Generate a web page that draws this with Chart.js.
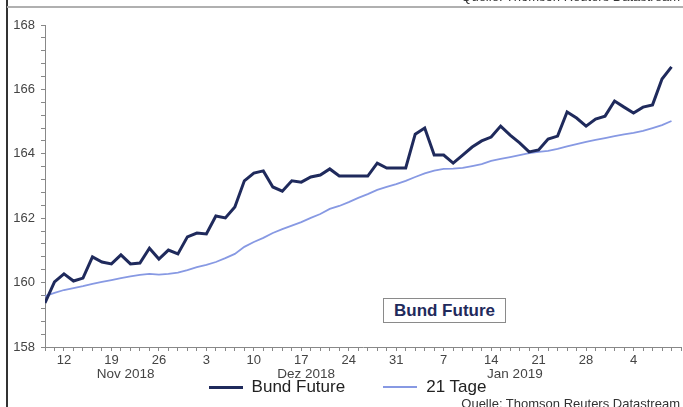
<!DOCTYPE html>
<html>
<head>
<meta charset="utf-8">
<script src="https://cdn.jsdelivr.net/npm/chart.js@4.4.1/dist/chart.umd.min.js"></script>
<style>
    html, body { margin: 0; padding: 0; background: #fff; overflow: hidden; }
    #contenedor { position: relative; width: 683px; height: 407px; font-family: "Liberation Sans", Arial, sans-serif; }
    #grafico { position: absolute; left: 0; top: 0; }
    .marcoIzq { position: absolute; left: 6px; top: 0; width: 2px; height: 407px; background: #333; }
    .marcoSup { position: absolute; left: 7px; top: 6px; right: 0; height: 2px; background: #b0b0b0; }
    .quelle { position: absolute; right: 3px; font-size: 13px; color: #333; white-space: nowrap; }
    #anotacion { position: absolute; left: 383px; top: 298px; width: 121px; height: 23px; border: 1px solid #8a8a8a;
        font-weight: bold; font-size: 17px; color: #1f2a5c; text-align: center; line-height: 23px; background: #fff; }
    #leyenda { position: absolute; left: 6px; top: 377px; width: 683px; display: flex; justify-content: center; font-size: 17px; color: #222; }
    .item { display: flex; align-items: center; margin: 0 19px; }
    .linea { display: inline-block; width: 34px; margin-right: 9px; }
</style>
</head>
<body>
<div id="contenedor">
    <canvas id="grafico" width="683" height="407"></canvas>
    <div class="marcoIzq"></div>
    <div class="marcoSup"></div>
    <div class="quelle" style="top:-11px">Quelle: Thomson Reuters Datastream</div>
    <div class="quelle" style="top:396px">Quelle: Thomson Reuters Datastream</div>
    <div id="anotacion">Bund Future</div>
    <div id="leyenda"></div>
</div>
<script>
// Datos (dias habiles 08.11.2018 - 08.02.2019)
const fechaInicio = '2018-11-08';
const fechaFin = '2019-02-08';
const nombresMes = ['Jan', 'Feb', 'Mär', 'Apr', 'Mai', 'Jun', 'Jul', 'Aug', 'Sep', 'Okt', 'Nov', 'Dez'];

const bundFuture = [159.37, 160.02, 160.27, 160.05, 160.14, 160.80, 160.64, 160.58, 160.86, 160.58,
    160.61, 161.07, 160.73, 161.01, 160.89, 161.42, 161.54, 161.51, 162.07, 162.01,
    162.35, 163.16, 163.40, 163.47, 162.97, 162.84, 163.16, 163.12, 163.28, 163.34,
    163.53, 163.31, 163.31, 163.31, 163.31, 163.71, 163.56, 163.56, 163.56, 164.61,
    164.80, 163.96, 163.96, 163.71, 163.96, 164.21, 164.40, 164.52, 164.86, 164.58,
    164.34, 164.06, 164.12, 164.46, 164.55, 165.30, 165.11, 164.86, 165.08, 165.17,
    165.64, 165.45, 165.27, 165.45, 165.52, 166.32, 166.70];

const tage21 = [159.58, 159.68, 159.77, 159.83, 159.89, 159.96, 160.02, 160.08, 160.14, 160.19,
    160.24, 160.27, 160.25, 160.27, 160.31, 160.39, 160.48, 160.55, 160.64, 160.76,
    160.89, 161.11, 161.26, 161.39, 161.54, 161.66, 161.77, 161.88, 162.01, 162.13,
    162.29, 162.38, 162.50, 162.63, 162.75, 162.88, 162.97, 163.06, 163.16, 163.28,
    163.39, 163.48, 163.53, 163.54, 163.56, 163.62, 163.68, 163.78, 163.84, 163.90,
    163.96, 164.02, 164.06, 164.09, 164.15, 164.23, 164.30, 164.37, 164.43, 164.49,
    164.55, 164.60, 164.65, 164.71, 164.80, 164.89, 165.02];

const ejeYMin = 158;
const ejeYMax = 168;
const ejeYPaso = 0.4;
const ejeYEtiqueta = 2;

// Lista de dias habiles
const fechas = [];
for (let d = new Date(fechaInicio + 'T00:00:00Z'); d <= new Date(fechaFin + 'T00:00:00Z'); d.setUTCDate(d.getUTCDate() + 1)) {
    const dia = d.getUTCDay();
    if (dia !== 0 && dia !== 6) fechas.push(new Date(d));
}

// Meses: primer y ultimo indice
const meses = [];
fechas.forEach((f, i) => {
    const clave = nombresMes[f.getUTCMonth()] + ' ' + f.getUTCFullYear();
    const ultimo = meses[meses.length - 1];
    if (!ultimo || ultimo.nombre !== clave) meses.push({ nombre: clave, desde: i, hasta: i });
    else ultimo.hasta = i;
});

const colorBund = '#1f2a5c';
const colorTage = '#8799e3';
const fuente = "'Liberation Sans', Arial, sans-serif";

const etiquetasMes = {
    id: 'etiquetasMes',
    afterDraw(chart) {
        const ctx = chart.ctx;
        const x = chart.scales.x;
        ctx.save();
        ctx.font = '13.5px ' + fuente;
        ctx.fillStyle = '#444';
        ctx.textAlign = 'center';
        ctx.textBaseline = 'middle';
        meses.forEach(m => {
            // solo meses con suficientes dias
            if (m.hasta - m.desde < 10) return;
            ctx.fillText(m.nombre, x.getPixelForValue((m.desde + m.hasta + 1) / 2), chart.chartArea.bottom + 27);
        });
        ctx.restore();
    }
};

const grafico = new Chart(document.getElementById('grafico').getContext('2d'), {
    type: 'line',
    data: {
        datasets: [
            {
                label: 'Bund Future',
                data: bundFuture.map((v, i) => ({ x: i, y: v })),
                borderColor: colorBund,
                borderWidth: 3,
                pointRadius: 0,
                tension: 0
            },
            {
                label: '21 Tage',
                data: tage21.map((v, i) => ({ x: i, y: v })),
                borderColor: colorTage,
                borderWidth: 1.8,
                pointRadius: 0,
                tension: 0
            }
        ]
    },
    options: {
        responsive: false,
        animation: false,
        devicePixelRatio: 1,
        layout: { padding: { left: 0, top: 25, right: 1.5, bottom: 0 } },
        plugins: {
            legend: { display: false },
            tooltip: { enabled: false }
        },
        scales: {
            x: {
                type: 'linear',
                min: 0,
                max: fechas.length,
                grid: { drawOnChartArea: false, drawTicks: true, tickLength: 4, color: '#888' },
                border: { color: '#888' },
                ticks: {
                    stepSize: 1,
                    autoSkip: false,
                    maxRotation: 0,
                    padding: 2,
                    color: '#444',
                    font: { family: fuente, size: 13 },
                    callback: (v) => {
                        const f = fechas[Math.round(v)];
                        return f && f.getUTCDay() === 1 ? String(f.getUTCDate()) : '';
                    }
                },
                afterFit: (s) => { s.height = 60; }
            },
            y: {
                min: ejeYMin,
                max: ejeYMax,
                grid: { drawOnChartArea: false, drawTicks: true, tickLength: 4, color: '#888' },
                border: { color: '#888' },
                ticks: {
                    stepSize: ejeYPaso,
                    autoSkip: false,
                    padding: 6,
                    color: '#444',
                    font: { family: fuente, size: 13 },
                    callback: (v) => {
                        const r = v / ejeYEtiqueta;
                        return Math.abs(r - Math.round(r)) < 1e-6 ? String(Math.round(v)) : '';
                    }
                },
                afterFit: (s) => { s.width = 45; }
            }
        }
    },
    plugins: [etiquetasMes]
});

// Leyenda HTML
const leyenda = document.getElementById('leyenda');
grafico.data.datasets.forEach(ds => {
    const item = document.createElement('div');
    item.className = 'item';
    const linea = document.createElement('span');
    linea.className = 'linea';
    linea.style.borderTop = Math.max(2, Math.round(ds.borderWidth)) + 'px solid ' + ds.borderColor;
    item.appendChild(linea);
    item.appendChild(document.createTextNode(ds.label));
    leyenda.appendChild(item);
});
</script>
</body>
</html>
